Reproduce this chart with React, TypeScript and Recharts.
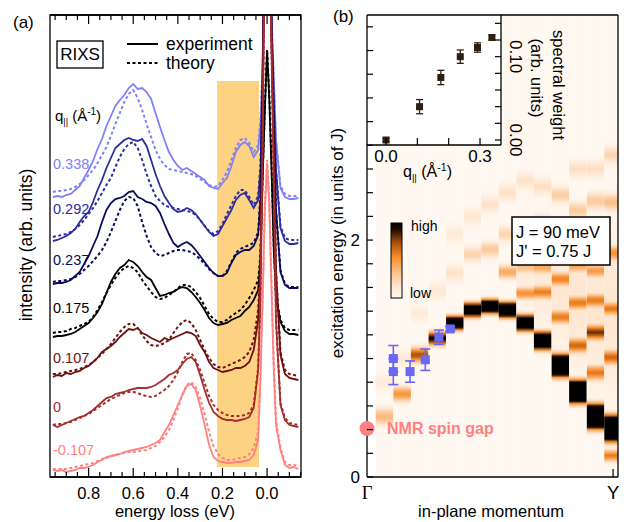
import React from 'react';
import { ComposedChart, ScatterChart, Line, Scatter, XAxis, YAxis, ReferenceArea, ErrorBar } from 'recharts';

const FONT = 'Liberation Sans, Arial, Helvetica, sans-serif';

// ---------- panel (a): RIXS spectra (arb. units, curves already offset) ----------
const energy = [
  0.96, 0.94, 0.92, 0.9, 0.88, 0.86, 0.84, 0.82, 0.8,
  0.78, 0.76, 0.74, 0.72, 0.7, 0.68, 0.66, 0.64, 0.62,
  0.6, 0.58, 0.56, 0.54, 0.52, 0.5, 0.48, 0.46, 0.44,
  0.42, 0.4, 0.38, 0.36, 0.34, 0.32, 0.3, 0.28, 0.26,
  0.24, 0.22, 0.2, 0.18, 0.16, 0.14, 0.12, 0.1, 0.08,
  0.06, 0.04,
  0.03, 0.02, 0.01, 0, -0.01, -0.02, -0.03,
  -0.04, -0.06, -0.08, -0.1, -0.12, -0.14,
];

const qLabels = ['0.338', '0.292', '0.237', '0.175', '0.107', '0', '-0.107'];

const exp338 = [
  280, 281, 280, 282, 283, 287, 291, 299, 307,
  316, 328, 338, 351, 361, 371, 377, 382, 389,
  393, 388, 389, 385, 378, 364, 350, 337, 325,
  317, 311, 307, 309, 306, 303, 300, 297, 291,
  289, 288, 294, 299, 311, 325, 332, 335, 331,
  320, 327,
  352, 407, 577, 727, 577, 457, 397,
  337, 289, 280, 278, 278, 279,
];
const thy338 = [
  285, 286, 286, 287, 288, 290, 293, 297, 302,
  307, 314, 322, 330, 341, 353, 364, 375, 383,
  387, 379, 367, 353, 340, 327, 318, 312, 308,
  307, 306, 305, 304, 303, 301, 298, 295, 292,
  290, 291, 297, 305, 317, 329, 337, 339, 334,
  325, 332,
  357, 412, 577, 727, 577, 457, 397,
  337, 291, 283, 281, 281, 281,
];
const exp292 = [
  236, 237, 239, 241, 244, 248, 255, 261, 265,
  275, 287, 297, 309, 319, 329, 333, 337, 339,
  337, 336, 338, 331, 317, 303, 291, 281, 274,
  268, 265, 266, 269, 267, 263, 257, 251, 245,
  241, 243, 251, 259, 267, 277, 282, 284, 277,
  269, 277,
  307, 397, 577, 727, 577, 452, 377,
  307, 249, 236, 233, 233, 234,
];
const thy292 = [
  240, 241, 242, 243, 245, 248, 252, 257, 263,
  269, 276, 284, 292, 299, 310, 320, 328, 333,
  335, 329, 317, 303, 291, 281, 276, 272, 270,
  269, 268, 267, 266, 265, 262, 257, 251, 246,
  243, 246, 253, 263, 272, 281, 287, 287, 280,
  272, 281,
  312, 402, 577, 727, 577, 452, 377,
  307, 251, 239, 237, 237, 237,
];
const exp237 = [
  193, 194, 194, 195, 197, 201, 205, 213, 221,
  231, 241, 255, 267, 274, 278, 279, 281, 285,
  286, 280, 278, 275, 274, 271, 264, 253, 243,
  234, 230, 233, 235, 232, 227, 221, 215, 209,
  204, 201, 201, 204, 214, 222, 225, 227, 227,
  231, 242,
  277, 387, 577, 727, 577, 447, 357,
  267, 205, 192, 189, 189, 189,
];
const thy237 = [
  195, 196, 196, 197, 198, 200, 203, 207, 211,
  216, 221, 227, 235, 245, 256, 267, 276, 280,
  279, 271, 255, 241, 230, 224, 221, 222, 224,
  226, 227, 227, 226, 225, 222, 218, 213, 208,
  204, 201, 201, 206, 215, 224, 228, 230, 232,
  234, 245,
  282, 392, 577, 727, 577, 447, 357,
  267, 207, 193, 190, 190, 190,
];
const exp175 = [
  140, 141, 141, 142, 143, 145, 148, 151, 154,
  159, 165, 173, 184, 195, 203, 209, 212, 217,
  215, 211, 205, 200, 197, 189, 181, 182, 184,
  185, 188, 190, 189, 185, 180, 174, 167, 159,
  154, 152, 153, 154, 157, 159, 161, 166, 170,
  177, 187,
  217, 297, 367, 427, 377, 307, 227,
  179, 155, 146, 143, 143, 142,
];
const thy175 = [
  144, 145, 145, 146, 148, 149, 151, 153, 155,
  160, 167, 175, 184, 192, 199, 205, 209, 211,
  209, 205, 197, 191, 185, 180, 178, 179, 182,
  185, 189, 192, 192, 190, 185, 179, 171, 163,
  158, 155, 155, 157, 161, 164, 167, 172, 179,
  187, 197,
  222, 302, 372, 427, 382, 312, 232,
  182, 157, 149, 147, 147, 147,
];
const exp107 = [
  100, 102, 101, 104, 103, 105, 106, 109, 111,
  115, 119, 125, 128, 131, 135, 140, 144, 148,
  147, 149, 144, 142, 139, 137, 135, 139, 137,
  139, 141, 143, 145, 144, 141, 132, 125, 115,
  109, 107, 105, 106, 107, 109, 109, 111, 115,
  127, 157,
  207, 357, 577, 727, 577, 437, 327,
  207, 122, 103, 99, 98, 97,
];
const thy107 = [
  103, 103, 104, 105, 106, 107, 108, 110, 112,
  115, 119, 123, 128, 133, 139, 145, 150, 153,
  153, 149, 142, 136, 132, 131, 132, 134, 137,
  144, 150, 155, 157, 154, 147, 137, 127, 119,
  113, 110, 109, 111, 113, 115, 117, 120, 125,
  137, 167,
  217, 362, 577, 727, 577, 437, 327,
  207, 125, 107, 103, 102, 101,
];
const exp0 = [
  52, 50, 52, 54, 56, 58, 60, 61, 64,
  67, 71, 75, 79, 80, 83, 84, 85, 87,
  88, 89, 89, 89, 90, 92, 95, 98, 102,
  104, 107, 113, 118, 120, 115, 102, 87, 74,
  65, 61, 58, 57, 57, 56, 57, 58, 60,
  69, 107,
  177, 327, 577, 727, 577, 427, 297,
  157, 72, 57, 52, 51, 50,
];
const thy0 = [
  52, 53, 53, 54, 55, 57, 59, 61, 63,
  66, 69, 72, 75, 78, 80, 82, 84, 85,
  85, 84, 82, 81, 80, 81, 84, 87, 91,
  97, 105, 115, 123, 124, 117, 107, 94, 81,
  72, 67, 64, 62, 61, 61, 61, 62, 64,
  72, 109,
  177, 327, 577, 727, 577, 427, 297,
  157, 74, 59, 54, 53, 52,
];
const expM107 = [
  7, 6, 7, 5, 6, 7, 9, 9, 10,
  12, 15, 17, 20, 21, 22, 23, 25, 26,
  27, 28, 29, 30, 32, 34, 37, 45, 52,
  62, 72, 82, 91, 93, 87, 71, 52, 32,
  20, 16, 15, 14, 14, 15, 15, 16, 17,
  22, 37,
  97, 177, 267, 314, 272, 187, 107,
  52, 27, 12, 9, 10, 8,
];
const thyM107 = [
  8, 8, 8, 8, 9, 10, 11, 12, 13,
  14, 16, 18, 19, 21, 22, 23, 24, 25,
  25, 26, 26, 27, 29, 31, 35, 40, 47,
  57, 69, 82, 92, 95, 90, 79, 63, 45,
  31, 23, 19, 17, 17, 18, 19, 20, 23,
  29, 45,
  102, 182, 272, 317, 277, 192, 112,
  57, 29, 15, 12, 12, 11,
];

const experiment = [exp338, exp292, exp237, exp175, exp107, exp0, expM107];
const theory = [thy338, thy292, thy237, thy175, thy107, thy0, thyM107];

const energyTicks = [
  0.95, 0.9, 0.85, 0.8, 0.75, 0.7, 0.65, 0.6, 0.55, 0.5, 0.45, 0.4,
  0.35, 0.3, 0.25, 0.2, 0.15, 0.1, 0.05, 0, -0.05, -0.1, -0.15,
];
const energyMajor = [0.8, 0.6, 0.4, 0.2, 0];
const energyLabels = ['0.8', '0.6', '0.4', '0.2', '0.0'];

// ---------- panel (b): calculated spectra, one strip per momentum ----------
const columnQ = [0.071, 0.143, 0.214, 0.286, 0.357, 0.429, 0.5, 0.571, 0.643, 0.714, 0.786, 0.857, 0.929, 1.0];
// [energy (J), strength, half width]
const columnBands = [
  [[0.51, 0.38, 0.13], [0.8, 0.12, 0.13]],
  [[0.7, 0.52, 0.11], [1.0, 0.15, 0.12]],
  [[1.03, 0.75, 0.11], [1.38, 0.12, 0.12]],
  [[1.17, 1.0, 0.1], [1.57, 0.15, 0.12]],
  [[1.3, 1.5, 0.1], [1.72, 0.18, 0.12], [2.05, 0.12, 0.13]],
  [[1.41, 1.6, 0.1], [1.88, 0.25, 0.12], [2.2, 0.15, 0.13]],
  [[1.44, 1.6, 0.1], [1.92, 0.3, 0.12], [2.3, 0.18, 0.13]],
  [[1.41, 1.7, 0.11], [1.73, 0.45, 0.1], [2.05, 0.25, 0.12], [2.4, 0.18, 0.13]],
  [[1.3, 1.8, 0.11], [1.55, 0.55, 0.09], [1.77, 0.35, 0.1], [2.1, 0.25, 0.12], [2.5, 0.18, 0.13], [1.8, 0.12, 0.7]],
  [[1.15, 2.0, 0.12], [1.56, 0.6, 0.1], [1.77, 0.45, 0.1], [2.15, 0.28, 0.12], [2.45, 0.2, 0.13], [1.7, 0.14, 0.8]],
  [[0.94, 2.2, 0.15], [1.35, 0.62, 0.1], [1.67, 0.6, 0.1], [2.0, 0.35, 0.12], [2.38, 0.28, 0.13], [1.6, 0.16, 0.9]],
  [[0.72, 2.4, 0.15], [1.11, 0.68, 0.11], [1.47, 0.62, 0.1], [1.78, 0.45, 0.1], [2.25, 0.3, 0.13], [2.6, 0.2, 0.13], [1.5, 0.17, 1.0]],
  [[0.51, 2.5, 0.16], [0.88, 0.62, 0.11], [1.22, 0.82, 0.11], [1.49, 0.62, 0.1], [1.74, 0.5, 0.1], [2.05, 0.25, 0.12], [2.33, 0.3, 0.13], [2.6, 0.2, 0.13], [1.4, 0.17, 1.1]],
  [[0.41, 2.5, 0.17], [0.18, 0.6, 0.09], [1.01, 0.68, 0.11], [1.42, 0.62, 0.1], [1.89, 0.55, 0.11], [2.32, 0.35, 0.13], [2.72, 0.25, 0.13], [1.4, 0.17, 1.2]],
];

const rixsQ = [0.107, 0.107, 0.175, 0.237, 0.292, 0.338];
const rixsE = [1.0, 0.89, 0.89, 0.99, 1.18, 1.25];
const rixsErr = [0.11, 0.11, 0.09, 0.09, 0.06, 0.02];
const nmrGap = 0.41;

const jTicks = [0, 0.2, 0.4, 0.6, 0.8, 1, 1.2, 1.4, 1.6, 1.8, 2, 2.2, 2.4, 2.6, 2.8, 3, 3.2, 3.4, 3.6, 3.8];
const jLabeled = [0, 2];
const momentumTicks = [0, 1];
const momentumLabels = ['Γ', 'Y'];

// inset: spectral weight vs q
const insetQ = [0, 0.107, 0.175, 0.237, 0.292, 0.338];
const insetWeight = [0.0, 0.04, 0.075, 0.1, 0.111, 0.123];
const insetErr = [0.002, 0.0085, 0.0086, 0.008, 0.0056, 0.003];
const insetXTicks = [0, 0.1, 0.2, 0.3];
const insetXLabeled = [0, 0.3];
const insetXText = ['0.0', '0.3'];
const insetYTicks = [0, 0.02, 0.04, 0.06, 0.08, 0.1, 0.12, 0.14];
const insetYLabeled = [0, 0.1];
const insetYText = ['0.00', '0.10'];

const curveColors = ['#8080f8', '#2d2da0', '#0a0a5c', '#000000', '#6e1010', '#a52d2d', '#ff8282'];
const BLUE = '#6868f4';
const PINK = '#ff8080';

const spectraRows = energy.map((e, i) => {
  const row: any = { e };
  experiment.forEach((s, k) => { row[`exp${k}`] = s[i]; });
  theory.forEach((s, k) => { row[`thy${k}`] = s[i]; });
  return row;
});
const rixsRows = rixsQ.map((x, i) => ({ x, y: rixsE[i], err: rixsErr[i] }));
const nmrRows = [{ x: 0, y: nmrGap }];
const insetRows = insetQ.map((x, i) => ({ x, y: insetWeight[i], err: insetErr[i] }));

// colour scale white -> orange -> black
const CMAP: [number, number[]][] = [
  [0, [255, 248, 241]], [0.15, [254, 232, 212]], [0.35, [251, 190, 135]],
  [0.55, [247, 140, 40]], [0.75, [160, 75, 10]], [0.9, [40, 15, 0]], [1, [0, 0, 0]],
];
function cmap(v: number) {
  const t = Math.max(0, Math.min(1, v));
  for (let i = 1; i < CMAP.length; i++) {
    if (t <= CMAP[i][0]) {
      const [a, ca] = CMAP[i - 1];
      const [b, cb] = CMAP[i];
      const f = (t - a) / (b - a);
      const c = ca.map((x, k) => Math.round(x + (cb[k] - x) * f));
      return `rgb(${c[0]},${c[1]},${c[2]})`;
    }
  }
  return 'rgb(0,0,0)';
}
const PROFILE = [1, 0.9, 0.7, 0.45, 0.22, 0.08, 0];
function bandLevel(bands: number[][], e: number) {
  let v = 0;
  for (const [c, s, w] of bands) {
    const t = Math.abs(e - c) / w;
    if (t >= 1) continue;
    const p = t * (PROFILE.length - 1);
    const i = Math.floor(p);
    const f = p - i;
    v = Math.max(v, s * (PROFILE[i] * (1 - f) + PROFILE[i + 1] * f));
  }
  return v;
}
const E_TOP = 3.9;
const N_STOPS = 195;
const COL_W = 0.0714;

const near = (a: number, b: number) => Math.abs(a - b) < 1e-6;

const energyTick = (side: 'top' | 'bottom') => (p: any) => {
  const v = p.payload.value;
  const k = energyMajor.findIndex((m) => near(m, v));
  const len = k >= 0 ? 9 : 5;
  const dir = side === 'bottom' ? -1 : 1;
  return (
    <g>
      <line x1={p.x} x2={p.x} y1={p.y} y2={p.y + dir * len} stroke="#000" strokeWidth={1.2} />
      {side === 'bottom' && k >= 0 && (
        <text x={p.x} y={p.y + 22} textAnchor="middle" fontSize={16.5} fontFamily={FONT} fill="#000">{energyLabels[k]}</text>
      )}
    </g>
  );
};

const jTick = (side: 'left' | 'right') => (p: any) => {
  const v = p.payload.value;
  const dir = side === 'left' ? 1 : -1;
  const show = side === 'left' && jLabeled.some((m) => near(m, v));
  return (
    <g>
      <line x1={p.x} x2={p.x + dir * 6} y1={p.y} y2={p.y} stroke="#000" strokeWidth={1.2} />
      {show && <text x={p.x - 7} y={p.y + 6} textAnchor="end" fontSize={17} fontFamily={FONT} fill="#000">{String(v)}</text>}
    </g>
  );
};

const momentumTick = (p: any) => {
  const v = p.payload.value;
  const k = momentumTicks.findIndex((m) => near(m, v));
  return (
    <g>
      {v > 0 && <line x1={p.x} x2={p.x} y1={p.y} y2={p.y - 8} stroke="#000" strokeWidth={1.2} />}
      <text x={p.x} y={p.y + 22} textAnchor="middle" fontSize={18.5} fill="#000"
        fontFamily={k === 0 ? 'Liberation Serif, DejaVu Serif, serif' : FONT}>{momentumLabels[k]}</text>
    </g>
  );
};

const insetXTick = (side: 'top' | 'bottom') => (p: any) => {
  const v = p.payload.value;
  const k = insetXLabeled.findIndex((m) => near(m, v));
  const dir = side === 'bottom' ? -1 : 1;
  return (
    <g>
      <line x1={p.x} x2={p.x} y1={p.y} y2={p.y + dir * 7} stroke="#000" strokeWidth={1.2} />
      {side === 'bottom' && k >= 0 && (
        <text x={p.x} y={p.y + 17} textAnchor="middle" fontSize={17} fontFamily={FONT} fill="#000">{insetXText[k]}</text>
      )}
    </g>
  );
};

const insetYTick = (p: any) => {
  const v = p.payload.value;
  const k = insetYLabeled.findIndex((m) => near(m, v));
  return (
    <g>
      <line x1={p.x} x2={p.x - 6} y1={p.y} y2={p.y} stroke="#000" strokeWidth={1.2} />
      {k >= 0 && (
        <text transform={`translate(${p.x + 9},${p.y}) rotate(90)`} textAnchor="middle" fontSize={17} fontFamily={FONT} fill="#000">{insetYText[k]}</text>
      )}
    </g>
  );
};

const noTick = () => <g />;
const AXIS_LINE = { stroke: '#000', strokeWidth: 1.3 };

const BlueSquare = (p: any) => <rect x={p.cx - 4.5} y={p.cy - 4.5} width={9} height={9} fill={BLUE} />;
const BrownSquare = (p: any) => <rect x={p.cx - 3.5} y={p.cy - 3.5} width={7} height={7} fill="#2d2010" />;
const PinkDot = (p: any) => <circle cx={p.cx} cy={p.cy} r={7.5} fill={PINK} />;

export default function App() {
  return (
    <div style={{ position: 'absolute', left: 0, top: 0, width: 629, height: 522, background: '#fff', overflow: 'hidden' }}>
      <svg width={0} height={0} style={{ position: 'absolute' }}>
        <defs>
          {columnBands.map((bands, i) => (
            <linearGradient key={i} id={`hm${i}`} x1="0" y1="0" x2="0" y2="1">
              {Array.from({ length: N_STOPS + 1 }, (_, j) => (
                <stop key={j} offset={j / N_STOPS} stopColor={cmap(bandLevel(bands, E_TOP - (j * E_TOP) / N_STOPS))} />
              ))}
            </linearGradient>
          ))}
          <linearGradient id="cbar" x1="0" y1="0" x2="0" y2="1">
            {CMAP.map(([v, c], i) => (
              <stop key={i} offset={1 - v} stopColor={`rgb(${c[0]},${c[1]},${c[2]})`} />
            )).reverse()}
          </linearGradient>
        </defs>
      </svg>

      {/* (a) RIXS spectra */}
      <div style={{ position: 'absolute', left: 0, top: 0 }}>
        <ComposedChart width={310} height={522} data={spectraRows} margin={{ top: 14, right: 9, bottom: 44, left: 50 }}>
          <XAxis dataKey="e" type="number" domain={[-0.152, 0.973]} reversed allowDataOverflow ticks={energyTicks} interval={0}
            tick={energyTick('bottom')} tickLine={false} axisLine={AXIS_LINE} tickSize={0} tickMargin={0} height={1} />
          <XAxis xAxisId="top" orientation="top" dataKey="e" type="number" domain={[-0.152, 0.973]} reversed allowDataOverflow
            ticks={energyTicks} interval={0} tick={energyTick('top')} tickLine={false} axisLine={AXIS_LINE} tickSize={0} tickMargin={0} height={1} />
          <YAxis hide type="number" domain={[0, 462]} allowDataOverflow />
          <ReferenceArea x1={0.036} x2={0.224} y1={10} y2={396} fill="#fdd383" fillOpacity={1} stroke="none" ifOverflow="visible" />
          {curveColors.flatMap((c, k) => [
            <Line key={`thy${k}`} type="linear" dataKey={`thy${k}`} stroke={c} strokeWidth={2} strokeDasharray="3 2.5"
              dot={false} activeDot={false} isAnimationActive={false} />,
            <Line key={`exp${k}`} type="linear" dataKey={`exp${k}`} stroke={c} strokeWidth={1.8}
              dot={false} activeDot={false} isAnimationActive={false} />,
          ])}
          <ReferenceArea x1={-0.152} x2={0.973} y1={0} y2={462} fill="none" stroke="#000" strokeWidth={1.3} ifOverflow="visible" />
        </ComposedChart>
      </div>

      {/* (b) dispersion map */}
      <div style={{ position: 'absolute', left: 300, top: 0 }}>
        <ComposedChart width={329} height={522} margin={{ top: 14, right: 10, bottom: 44, left: 66 }}>
          <XAxis dataKey="x" type="number" domain={[0, 1.02]} ticks={momentumTicks} interval={0} tick={momentumTick}
            tickLine={false} axisLine={AXIS_LINE} tickSize={0} tickMargin={0} height={1} />
          <XAxis xAxisId="top" orientation="top" type="number" domain={[0, 1.02]} ticks={momentumTicks} interval={0} tick={noTick}
            tickLine={false} axisLine={AXIS_LINE} tickSize={0} tickMargin={0} height={1} />
          <YAxis dataKey="y" type="number" domain={[0, E_TOP]} ticks={jTicks} interval={0} tick={jTick('left')}
            tickLine={false} axisLine={AXIS_LINE} tickSize={0} tickMargin={0} width={1} />
          <YAxis yAxisId="r" orientation="right" type="number" domain={[0, E_TOP]} ticks={jTicks} interval={0} tick={jTick('right')}
            tickLine={false} axisLine={AXIS_LINE} tickSize={0} tickMargin={0} width={1} />
          {columnQ.map((q, i) => (
            <ReferenceArea key={i} x1={q - COL_W / 2} x2={q + COL_W / 2} y1={0} y2={E_TOP}
              fill={`url(#hm${i})`} fillOpacity={1} stroke="none" ifOverflow="hidden" />
          ))}
          <ReferenceArea x1={0} x2={0.5447} y1={2.8} y2={E_TOP} fill="#fff" fillOpacity={1} stroke="none" ifOverflow="visible" />
          <Scatter data={rixsRows} shape={BlueSquare} isAnimationActive={false}>
            <ErrorBar dataKey="err" direction="y" width={5} stroke={BLUE} strokeWidth={1.6} />
          </Scatter>
          <Scatter data={nmrRows} shape={PinkDot} isAnimationActive={false} />
        </ComposedChart>
      </div>

      {/* inset: spectral weight */}
      <div style={{ position: 'absolute', left: 300, top: 0 }}>
        <ScatterChart width={329} height={522} margin={{ top: 14, right: 127, bottom: 376, left: 67 }}>
          <XAxis dataKey="x" type="number" domain={[-0.0607, 0.367]} ticks={insetXTicks} interval={0} tick={insetXTick('bottom')}
            tickLine={false} axisLine={AXIS_LINE} tickSize={0} tickMargin={0} height={1} />
          <XAxis xAxisId="top" orientation="top" dataKey="x" type="number" domain={[-0.0607, 0.367]} ticks={insetXTicks} interval={0}
            tick={insetXTick('top')} tickLine={false} axisLine={false} tickSize={0} tickMargin={0} height={1} />
          <YAxis dataKey="y" orientation="right" type="number" domain={[-0.006, 0.15]} ticks={insetYTicks} interval={0} tick={insetYTick}
            tickLine={false} axisLine={AXIS_LINE} tickSize={0} tickMargin={0} width={1} />
          <Scatter data={insetRows} shape={BrownSquare} isAnimationActive={false}>
            <ErrorBar dataKey="err" direction="y" width={3.5} stroke="#2d2010" strokeWidth={1.3} />
          </Scatter>
        </ScatterChart>
      </div>

      {/* annotations */}
      <svg width={629} height={522} style={{ position: 'absolute', left: 0, top: 0, pointerEvents: 'none' }} fontFamily={FONT}>
        <text x={13} y={28} fontSize={17}>(a)</text>
        <rect x={57} y={41} width={46} height={27} fill="#fff" stroke="#000" strokeWidth={1.3} />
        <text x={80} y={60} textAnchor="middle" fontSize={17}>RIXS</text>
        <line x1={127} x2={158} y1={44} y2={44} stroke="#000" strokeWidth={2} />
        <text x={166} y={50} fontSize={17.5}>experiment</text>
        <line x1={127} x2={158} y1={63} y2={63} stroke="#000" strokeWidth={2} strokeDasharray="3 2.5" />
        <text x={166} y={69} fontSize={17.5}>theory</text>
        <text x={55} y={121} fontSize={15}>
          q<tspan fontSize={9} dy={4}>||</tspan>
          <tspan fontSize={15} dy={-4}> (Å</tspan>
          <tspan fontSize={10} dy={-6}>-1</tspan>
          <tspan fontSize={15} dy={6}>)</tspan>
        </text>
        {qLabels.map((t, k) => (
          <text key={t} x={53} y={[169, 214, 265, 313, 363, 412, 455][k]} fontSize={14.5} fill={curveColors[k]}>{t}</text>
        ))}
        <text transform="translate(32,245) rotate(-90)" textAnchor="middle" fontSize={17.5}>intensity (arb. units)</text>
        <text x={175} y={517} textAnchor="middle" fontSize={16.5}>energy loss (eV)</text>

        <text x={333} y={22} fontSize={17}>(b)</text>
        <text transform="translate(343,243) rotate(-90)" textAnchor="middle" fontSize={17}>excitation energy (in units of J)</text>
        <text x={491} y={517} textAnchor="middle" fontSize={16.5}>in-plane momentum</text>
        <text x={403} y={177} fontSize={16}>
          q<tspan fontSize={9.5} dy={4}>||</tspan>
          <tspan fontSize={16} dy={-4}> (Å</tspan>
          <tspan fontSize={10.5} dy={-6}>-1</tspan>
          <tspan fontSize={16} dy={6}>)</tspan>
        </text>
        <text transform="translate(553,85) rotate(90)" textAnchor="middle" fontSize={16.5}>spectral weight</text>
        <text transform="translate(531,78) rotate(90)" textAnchor="middle" fontSize={16.5}>(arb. units)</text>

        <rect x={391} y={223} width={11} height={75} fill="url(#cbar)" stroke="#000" strokeWidth={1} />
        <text x={411} y={231} fontSize={14}>high</text>
        <text x={410} y={298} fontSize={14}>low</text>

        <rect x={512} y={217} width={98} height={48} fill="#fff" stroke="#000" strokeWidth={1.5} />
        <text x={516} y={238} fontSize={16.5}>J = 90 meV</text>
        <text x={516} y={257} fontSize={16.5}>J' = 0.75 J</text>

        <text x={387} y={434} fontSize={16} fontWeight="bold" fill={PINK}>NMR spin gap</text>
      </svg>
    </div>
  );
}
